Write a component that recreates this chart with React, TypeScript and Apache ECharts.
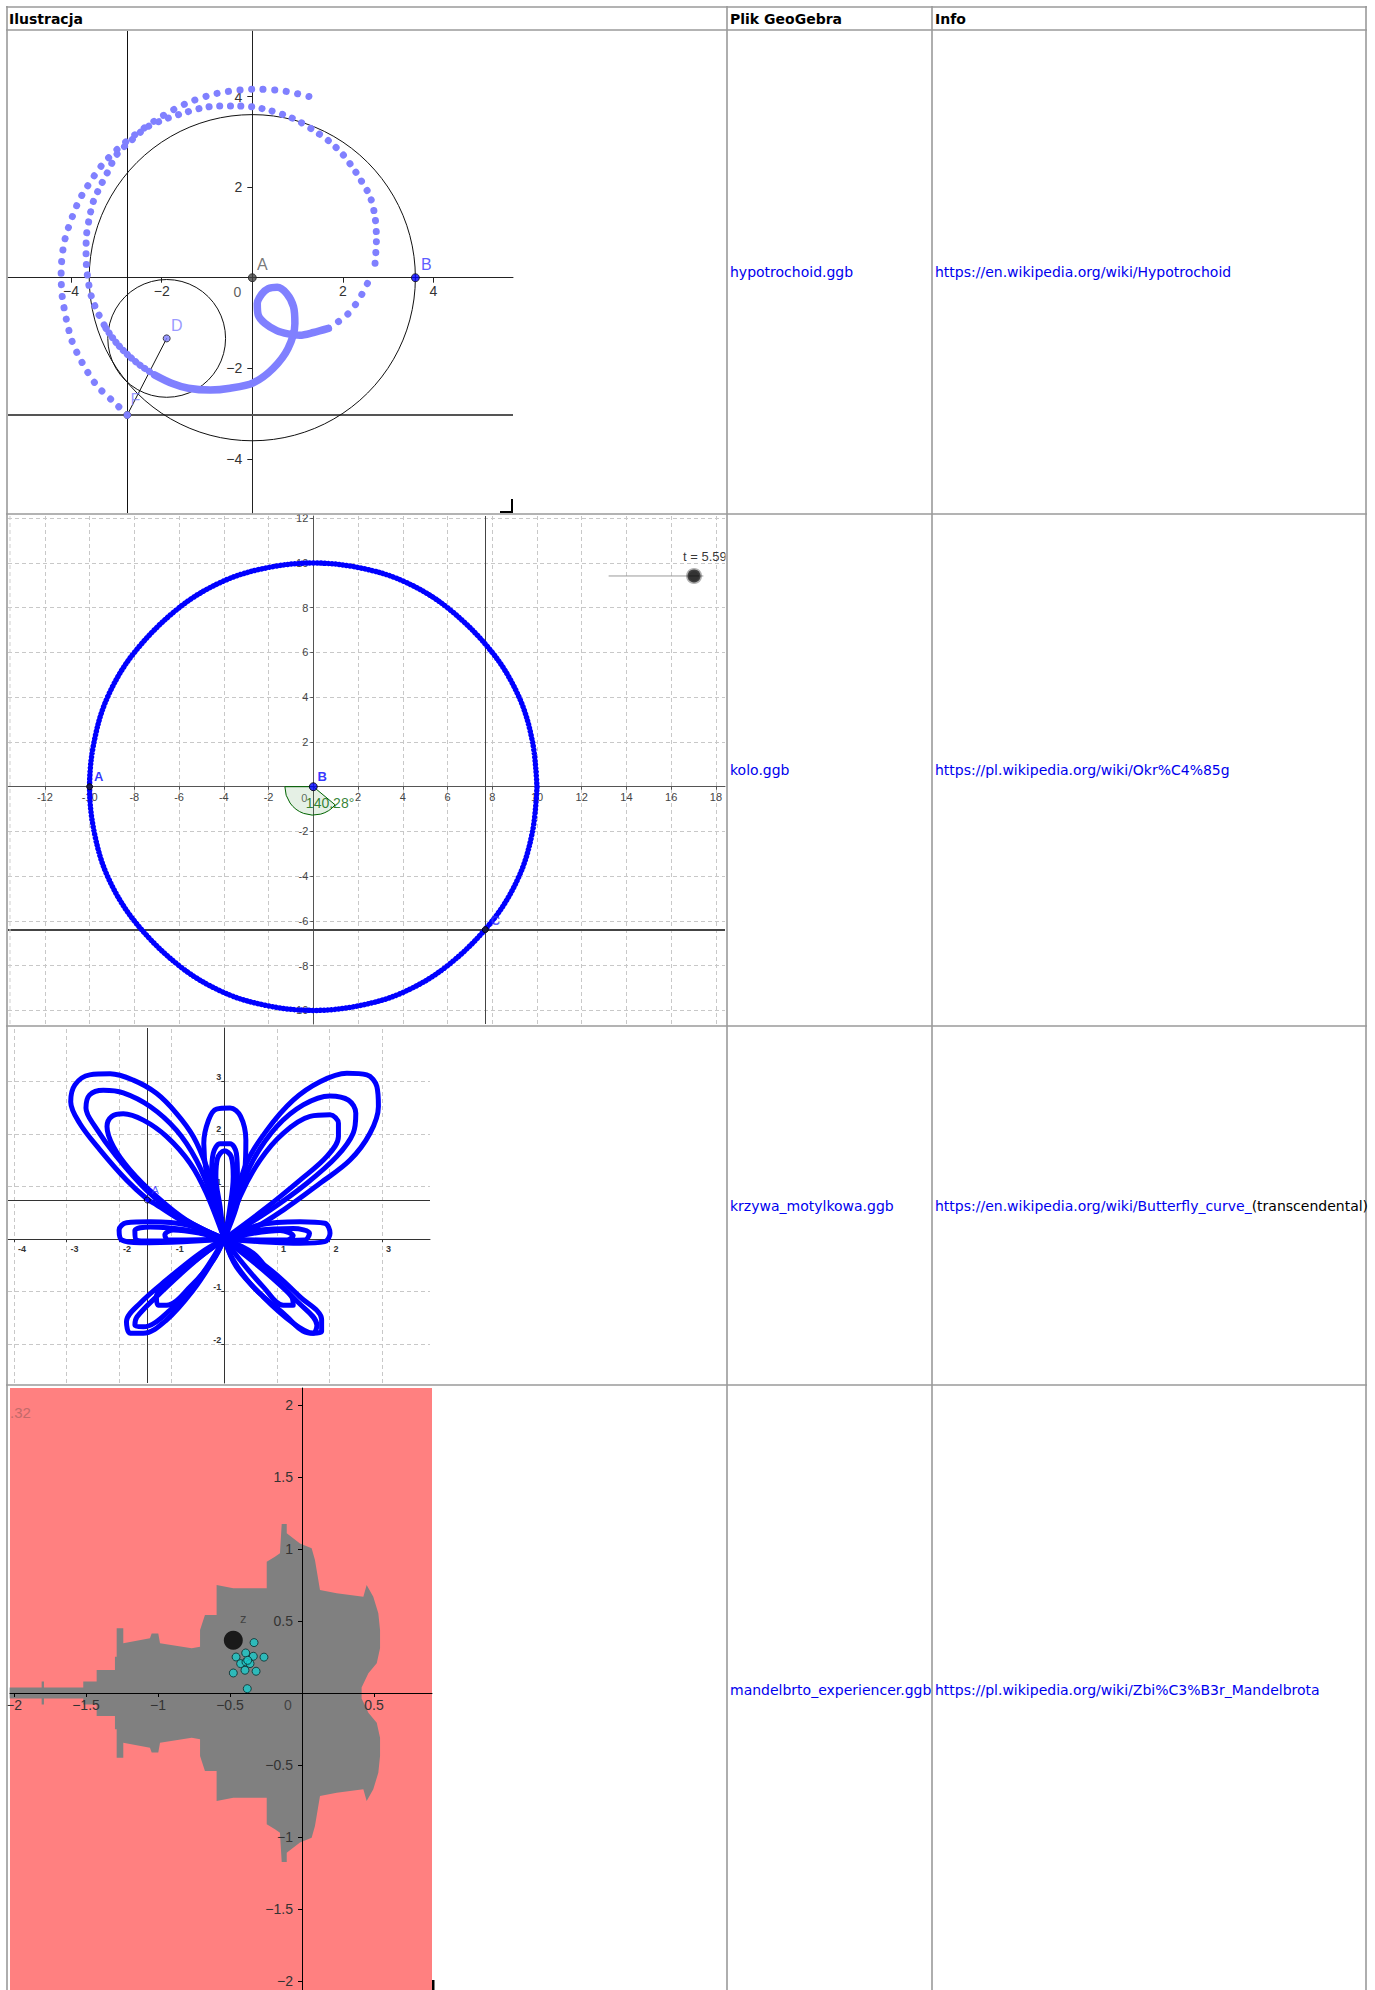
import React, { useEffect, useRef } from 'react';
import * as echarts from 'echarts';

/* ================= table content ================= */
const headerLabels = ['Ilustracja', 'Plik GeoGebra', 'Info'];
const fileNames = ['hypotrochoid.ggb', 'kolo.ggb', 'krzywa_motylkowa.ggb', 'mandelbrto_experiencer.ggb'];
const infoLinks = [
  'https://en.wikipedia.org/wiki/Hypotrochoid',
  'https://pl.wikipedia.org/wiki/Okr%C4%85g',
  'https://en.wikipedia.org/wiki/Butterfly_curve_',
  'https://pl.wikipedia.org/wiki/Zbi%C3%B3r_Mandelbrota',
];
const infoSuffixes = ['', '', '(transcendental)', ''];

/* ================= panel 1: hypotrochoid ================= */
const hypoTicks = [-4, -2, 2, 4];
const hypoCircles = [[0, 0, 3.6], [-1.89, -1.34, 1.3]]; // cx, cy, r
const hypoSegmentDF = [[-1.89, -1.34], [-2.76, -3.03]];
const hypoLineThroughF = { x: -2.76, y: -3.03 };
const hypoPointA = [0, 0];
const hypoPointB = [3.6, 0];
const hypoPointD = [-1.89, -1.34];
const hypoPointF = [-2.76, -3.03];
const hypoOuterArc = [[1.25, 4.0], [0.65, 4.13], [0.02, 4.16], [-0.77, 4.07], [-1.45, 3.85], [-2.08, 3.51], [-2.79, 3.0], [-3.29, 2.52], [-3.67, 1.97], [-3.86, 1.63], [-4.14, 0.83], [-4.22, 0.1], [-4.19, -0.46], [-4.0, -1.34], [-3.77, -1.85], [-3.44, -2.37], [-3.03, -2.77], [-2.76, -3.03]];
const hypoInnerArc = [[2.71, 0.32], [2.74, 0.85], [2.71, 1.33], [2.6, 1.79], [2.38, 2.18], [2.19, 2.47], [1.99, 2.73], [1.71, 3.0], [1.42, 3.21], [1.05, 3.44], [0.74, 3.58], [0.35, 3.7], [0.02, 3.77], [-0.35, 3.79], [-0.73, 3.79], [-1.1, 3.75], [-1.6, 3.61], [-2.0, 3.47], [-2.33, 3.32], [-2.66, 3.04], [-2.99, 2.72], [-3.2, 2.32], [-3.36, 2.01], [-3.51, 1.68], [-3.6, 1.3], [-3.66, 0.94], [-3.67, 0.54], [-3.66, 0.24], [-3.62, -0.09], [-3.55, -0.42], [-3.42, -0.75], [-3.23, -1.12]];
const hypoMidTrace = [[-3.23, -1.12], [-2.99, -1.45], [-2.74, -1.71], [-2.48, -1.93], [-2.15, -2.15]];
const hypoDenseTrace = [[-2.15, -2.15], [-1.78, -2.33], [-1.41, -2.44], [-0.93, -2.48], [-0.49, -2.44], [0.02, -2.32], [0.46, -2.0], [0.79, -1.56], [0.94, -1.01], [0.91, -0.64], [0.76, -0.35], [0.55, -0.21], [0.35, -0.24], [0.21, -0.36], [0.11, -0.57], [0.13, -0.82], [0.28, -1.01], [0.54, -1.17], [0.79, -1.24], [1.05, -1.27], [1.35, -1.21], [1.68, -1.12]];
const hypoTailDots = [[1.68, -1.12], [1.97, -0.92], [2.12, -0.79], [2.21, -0.68], [2.35, -0.49], [2.56, -0.09]];

/* ================= panel 2: kolo ================= */
const koloXTicks = [-12, -10, -8, -6, -4, -2, 2, 4, 6, 8, 10, 12, 14, 16, 18];
const koloYTicks = [-10, -8, -6, -4, -2, 2, 4, 6, 8, 10, 12];
const koloCircle = [[10, 0], [9.8, 2], [9.2, 4], [8, 6], [6, 8], [4, 9.2], [2, 9.8], [0, 10], [-2, 9.8], [-4, 9.2], [-6, 8], [-8, 6], [-9.2, 4], [-9.8, 2], [-10, 0], [-9.8, -2], [-9.2, -4], [-8, -6], [-6, -8], [-4, -9.2], [-2, -9.8], [0, -10], [2, -9.8], [4, -9.2], [6, -8], [8, -6], [9.2, -4], [9.8, -2], [10, 0]];
const koloPointA = [-10, 0];
const koloPointB = [0, 0];
const koloPointC = [7.69, -6.39];
const koloAngleSector = [[0, 0, 1.27, 39.72, 180]]; // cx, cy, r, start deg, end deg (screen)
const koloAngleText = '140.28°';
const koloAngleTextPos = [0.75, -0.73];
const koloSliderLine = [[13.22, 9.42], [17.42, 9.42]];
const koloSliderKnob = [17.02, 9.42];
const koloSliderText = 't = 5.59';
const koloSliderTextPos = [16.53, 10.27];

/* ================= panel 3: butterfly ================= */
const bfXTicks = [-4, -3, -2, -1, 1, 2, 3];
const bfYTicks = [-2, -1, 1, 2, 3];
const bfPointA = [-1.464, 0.741];
const bfUpperLeft1 = [[0, 0], [-0.72, 0.3], [-1.29, 0.65], [-1.48, 0.77], [-1.86, 1.12], [-2.36, 1.69], [-2.75, 2.2], [-2.92, 2.61], [-2.84, 2.93], [-2.56, 3.12], [-2.17, 3.14], [-1.73, 3.02], [-1.29, 2.77], [-0.91, 2.39], [-0.59, 1.95], [-0.34, 1.38], [-0.15, 0.74], [0, 0]];
const bfUpperLeft2 = [[0, 0], [-0.84, 0.42], [-1.48, 0.93], [-2.05, 1.57], [-2.46, 2.14], [-2.63, 2.49], [-2.56, 2.74], [-2.3, 2.83], [-1.92, 2.78], [-1.41, 2.52], [-0.91, 2.07], [-0.53, 1.5], [-0.24, 0.81], [0, 0]];
const bfUpperLeft3 = [[0, 0], [-0.72, 0.36], [-1.29, 0.81], [-1.79, 1.31], [-2.11, 1.76], [-2.23, 2.14], [-2.14, 2.33], [-1.92, 2.38], [-1.54, 2.26], [-1.1, 1.95], [-0.65, 1.44], [-0.34, 0.87], [0, 0]];
const bfUpperRight1 = [[0, 0], [0.17, 0.61], [0.42, 1.44], [0.81, 2.07], [1.31, 2.64], [1.82, 2.99], [2.33, 3.15], [2.71, 3.12], [2.9, 2.9], [2.93, 2.52], [2.77, 2.01], [2.39, 1.5], [1.82, 1.06], [1.12, 0.55], [0.55, 0.2], [0, 0]];
const bfUpperRight2 = [[0, 0], [0.23, 0.74], [0.55, 1.5], [1.0, 2.14], [1.5, 2.55], [2.01, 2.72], [2.36, 2.64], [2.5, 2.39], [2.45, 2.01], [2.14, 1.57], [1.57, 1.06], [0.87, 0.55], [0, 0]];
const bfUpperRight3 = [[0, 0], [0.3, 0.81], [0.68, 1.5], [1.12, 2.01], [1.63, 2.33], [2.01, 2.36], [2.17, 2.2], [2.17, 1.95], [1.95, 1.57], [1.44, 1.12], [0.74, 0.55], [0, 0]];
const bfTop1 = [[0, 0], [-0.18, 0.61], [-0.34, 1.25], [-0.39, 1.82], [-0.3, 2.26], [-0.15, 2.47], [0.11, 2.49], [0.31, 2.33], [0.41, 1.88], [0.39, 1.31], [0.23, 0.61], [0, 0]];
const bfTop2 = [[0, 0], [-0.15, 0.61], [-0.24, 1.25], [-0.21, 1.63], [-0.08, 1.81], [0.11, 1.81], [0.23, 1.63], [0.25, 1.19], [0.14, 0.55], [0, 0]];
const bfTop3 = [[0, 0], [-0.08, 0.61], [-0.16, 1.19], [-0.13, 1.53], [0, 1.68], [0.13, 1.57], [0.17, 1.19], [0.1, 0.55], [0, 0]];
const bfLeft1 = [[0, 0], [-0.72, 0.27], [-1.41, 0.33], [-1.86, 0.31], [-2.0, 0.17], [-1.95, -0.02], [-1.6, -0.07], [-0.78, -0.05], [0, 0]];
const bfLeft2 = [[0, 0], [-0.72, 0.17], [-1.41, 0.23], [-1.7, 0.16], [-1.68, -0.01], [-1.41, -0.04], [-0.72, -0.03], [0, 0]];
const bfLeft3 = [[0, 0], [-0.46, 0.11], [-0.97, 0.17], [-1.13, 0.08], [-1.07, -0.02], [-0.59, -0.02], [0, 0]];
const bfRight1 = [[0, 0], [0.68, 0.27], [1.44, 0.33], [1.91, 0.3], [2.01, 0.11], [1.91, -0.05], [1.44, -0.08], [0.68, -0.05], [0, 0]];
const bfRight2 = [[0, 0], [0.68, 0.17], [1.31, 0.2], [1.62, 0.11], [1.53, -0.02], [0.81, -0.03], [0, 0]];
const bfRight3 = [[0, 0], [0.55, 0.11], [1.06, 0.16], [1.31, 0.06], [1.19, -0.02], [0.55, -0.02], [0, 0]];
const bfLowLeft1 = [[0, 0], [-0.46, -0.27], [-1.1, -0.78], [-1.6, -1.22], [-1.86, -1.57], [-1.79, -1.79], [-1.54, -1.79], [-1.1, -1.54], [-0.59, -0.97], [-0.21, -0.4], [0, 0]];
const bfLowLeft2 = [[0, 0], [-0.53, -0.4], [-1.22, -1.03], [-1.66, -1.48], [-1.7, -1.64], [-1.54, -1.67], [-1.03, -1.35], [-0.46, -0.72], [0, 0]];
const bfLowLeft3 = [[0, 0], [-0.46, -0.34], [-1.03, -0.78], [-1.29, -1.1], [-1.26, -1.26], [-1.1, -1.26], [-0.65, -0.91], [-0.21, -0.4], [0, 0]];
const bfLowRight1 = [[0, 0], [0.17, -0.4], [0.55, -0.91], [1.12, -1.41], [1.63, -1.79], [1.85, -1.76], [1.85, -1.53], [1.44, -1.1], [0.81, -0.53], [0, 0]];
const bfLowRight2 = [[0, 0], [0.23, -0.53], [0.74, -1.1], [1.31, -1.6], [1.69, -1.79], [1.76, -1.64], [1.4, -1.2], [0.75, -0.6], [0, 0]];
const bfLowRight3 = [[0, 0], [0.3, -0.4], [0.74, -0.91], [1.12, -1.26], [1.31, -1.26], [1.28, -1.1], [0.93, -0.72], [0.55, -0.27], [0, 0]];
const bfLoops = [bfUpperLeft1, bfUpperLeft2, bfUpperLeft3, bfUpperRight1, bfUpperRight2, bfUpperRight3, bfTop1, bfTop2, bfTop3, bfLeft1, bfLeft2, bfLeft3, bfRight1, bfRight2, bfRight3, bfLowLeft1, bfLowLeft2, bfLowLeft3, bfLowRight1, bfLowRight2, bfLowRight3];

/* ================= panel 4: Mandelbrot ================= */
const mbXTicks = [-2, -1.5, -1, -0.5, 0.5];
const mbYTicks = [-2, -1.5, -1, -0.5, 0.5, 1, 1.5, 2];
const mbUpperOutline = [[-2.03, 0.039], [-1.808, 0.039], [-1.808, 0.079], [-1.792, 0.079], [-1.792, 0.039], [-1.519, 0.039], [-1.519, 0.079], [-1.426, 0.079], [-1.426, 0.16], [-1.299, 0.16], [-1.299, 0.252], [-1.287, 0.252], [-1.287, 0.449], [-1.241, 0.449], [-1.241, 0.345], [-1.056, 0.38], [-1.044, 0.414], [-0.998, 0.414], [-0.986, 0.345], [-0.766, 0.31], [-0.708, 0.322], [-0.708, 0.4375], [-0.674, 0.542], [-0.593, 0.542], [-0.593, 0.75], [-0.477, 0.727], [-0.245, 0.727], [-0.245, 0.912], [-0.188, 0.947], [-0.153, 0.97], [-0.141, 1.174], [-0.106, 1.174], [-0.106, 1.109], [-0.014, 1.039], [0.067, 1.005], [0.09, 0.924], [0.125, 0.715], [0.241, 0.692], [0.426, 0.669], [0.449, 0.75], [0.495, 0.669], [0.53, 0.553], [0.542, 0.4375], [0.542, 0.31], [0.519, 0.206], [0.461, 0.137], [0.414, 0.039], [0.414, 0]];
const mbPointZ = [-0.477, 0.366];
const mbOrbit = [[-0.333, 0.35], [-0.458, 0.25], [-0.391, 0.278], [-0.338, 0.255], [-0.264, 0.249], [-0.426, 0.204], [-0.389, 0.215], [-0.361, 0.204], [-0.377, 0.227], [-0.477, 0.139], [-0.396, 0.158], [-0.319, 0.151], [-0.38, 0.03]];

/* ================= layout (pixels) ================= */
const FONT_TABLE = '"DejaVu Sans", sans-serif';
const FONT_GGB = '"Liberation Sans", Arial, sans-serif';
const TABLE = { hLines: [7, 30, 514, 1026, 1385], vLines: [7, 727, 932, 1366], left: 6, right: 1367, bottom: 1990, color: '#9a9a9a' };
const HEADER_Y = 18.5;
const COL_TEXT_X = [9, 730, 935];
const ROW_TEXT_Y = [272, 769.5, 1205.5, 1690];

// each panel: grid rect + pixel position of origin + pixels per unit
const PANELS = [
  { left: 8, top: 31, width: 505, height: 482, ox: 252.3, oy: 277.7, k: 45.3 },
  { left: 8, top: 516, width: 717, height: 508, ox: 313.3, oy: 786.7, k: 22.37 },
  { left: 8, top: 1028, width: 422, height: 355, ox: 224.3, oy: 1239, k: 52.6 },
  { left: 10, top: 1388, width: 422, height: 602, ox: 302, oy: 1693, k: 144 },
];
const ranges = PANELS.map((p) => ({
  x: [(p.left - p.ox) / p.k, (p.left + p.width - p.ox) / p.k],
  y: [(p.oy - (p.top + p.height)) / p.k, (p.oy - p.top) / p.k],
}));

const MINUS = '\u2212';

function makeAxes(i: number, xt: number[], yt: number[], o: any) {
  const p = PANELS[i];
  const fmt = (v: number) => (v < 0 ? o.minus + String(Math.abs(v)) : String(v));
  const base = (ticks: number[], isX: boolean) => ({
    type: 'value',
    gridIndex: i,
    z: o.z,
    position: isX ? 'bottom' : 'left',
    // move the axis from the grid edge onto the origin (GeoGebra style)
    offset: isX ? -(p.top + p.height - p.oy) : -(p.ox - p.left),
    axisLine: { show: true, onZero: false, lineStyle: { color: o.axisColor, width: 1 } },
    axisTick: { show: true, customValues: ticks, length: o.tickLen, lineStyle: { color: o.axisColor } },
    axisLabel: {
      show: true,
      customValues: ticks,
      formatter: fmt,
      color: o.labelColor,
      fontSize: o.fontSize,
      fontFamily: FONT_GGB,
      fontWeight: o.fontWeight || 'normal',
      margin: isX ? o.xMargin : o.yMargin,
      ...(isX ? o.xExtra || {} : o.yExtra || {}),
    },
    splitLine: { show: false },
  });
  return {
    x: { ...base(xt, true), min: ranges[i].x[0], max: ranges[i].x[1] },
    y: { ...base(yt, false), min: ranges[i].y[0], max: ranges[i].y[1] },
  };
}

function pathSeries(i: number, data: number[][], o: any) {
  return {
    type: 'line', xAxisIndex: i, yAxisIndex: i, z: o.z ?? 3, silent: true, data,
    showSymbol: false, symbol: 'none', smooth: o.smooth ?? 0,
    lineStyle: { color: o.color, width: o.width, type: o.dash ?? 'solid', cap: 'round', join: 'round' },
  };
}

function pointSeries(i: number, data: number[][], o: any) {
  return {
    type: 'scatter', xAxisIndex: i, yAxisIndex: i, z: o.z ?? 5, silent: true,
    symbol: 'circle', symbolSize: o.size,
    itemStyle: { color: o.fill, borderColor: o.stroke || 'rgba(0,0,0,0)', borderWidth: o.strokeWidth || 0 },
    label: o.text
      ? {
          show: true, formatter: o.text, position: 'inside', offset: o.offset || [0, 0],
          color: o.color, fontSize: o.fontSize, fontFamily: o.fontFamily || FONT_GGB,
          fontWeight: o.fontWeight || 'normal', align: o.align || 'center', verticalAlign: 'middle',
        }
      : { show: false },
    data,
  };
}

function textSeries(i: number, pos: number[], text: string, o: any) {
  return pointSeries(i, [pos], { ...o, size: 1, fill: 'rgba(0,0,0,0)', text });
}

function lineMarks(i: number, xs: number[], ys: number[], style: any, z: number) {
  return {
    type: 'scatter', xAxisIndex: i, yAxisIndex: i, z, silent: true, data: [],
    markLine: {
      silent: true, z, symbol: ['none', 'none'], label: { show: false }, lineStyle: style, animation: false,
      data: [...xs.map((v) => ({ xAxis: v })), ...ys.map((v) => ({ yAxis: v }))],
    },
  };
}

function buildOption() {
  const a0 = makeAxes(0, hypoTicks, hypoTicks, { minus: MINUS, axisColor: '#222', labelColor: '#333', fontSize: 14, tickLen: 5, xMargin: 6, yMargin: 10, z: 1 });
  const a1 = makeAxes(1, koloXTicks, koloYTicks, { minus: '-', axisColor: '#555', labelColor: '#444', fontSize: 11, tickLen: 3, xMargin: 5, yMargin: 5, z: 1 });
  const a2 = makeAxes(2, bfXTicks, bfYTicks, { minus: '-', axisColor: '#333', labelColor: '#333', fontSize: 9, fontWeight: 'bold', tickLen: 3, xMargin: 5, yMargin: 3, z: 1, xExtra: { align: 'left', padding: [0, 0, 0, 4] }, yExtra: { verticalAlign: 'bottom' } });
  const a3 = makeAxes(3, mbXTicks, mbYTicks, { minus: MINUS, axisColor: '#000', labelColor: '#333', fontSize: 14, tickLen: 4, xMargin: 5, yMargin: 9, z: 3 });

  const series: any[] = [];

  /* ---- panel 1 ---- */
  series.push({
    type: 'custom', xAxisIndex: 0, yAxisIndex: 0, z: 2, silent: true, data: hypoCircles,
    renderItem: (params: any, api: any) => {
      const c = api.coord([api.value(0), api.value(1)]);
      const s = api.size([api.value(2), api.value(2)]);
      return { type: 'circle', shape: { cx: c[0], cy: c[1], r: s[0] }, style: { fill: 'none', stroke: '#111', lineWidth: 1 } };
    },
  });
  series.push(lineMarks(0, [hypoLineThroughF.x], [], { color: '#111', width: 1, type: 'solid' }, 1.5));
  series.push(lineMarks(0, [], [hypoLineThroughF.y], { color: '#555', width: 2, type: 'solid' }, 1.5));
  series.push(pathSeries(0, hypoSegmentDF, { color: '#111', width: 1, z: 2 }));
  const dotColor = '#8080ff';
  series.push(pathSeries(0, hypoOuterArc, { color: dotColor, width: 7, dash: [0.1, 11.5], smooth: 0.3 }));
  series.push(pathSeries(0, hypoInnerArc, { color: dotColor, width: 7, dash: [0.1, 10.5], smooth: 0.3 }));
  series.push(pathSeries(0, hypoMidTrace, { color: dotColor, width: 7, dash: [0.1, 5.5], smooth: 0.3 }));
  series.push(pathSeries(0, hypoDenseTrace, { color: dotColor, width: 7.5, smooth: 0.3 }));
  series.push(pathSeries(0, hypoTailDots, { color: dotColor, width: 7, dash: [0.1, 12], smooth: 0.3 }));
  series.push(pointSeries(0, [hypoPointA], { size: 8, fill: '#444', stroke: '#222', strokeWidth: 1, text: 'A', offset: [10, -13], color: '#555', fontSize: 16 }));
  series.push(pointSeries(0, [hypoPointB], { size: 8, fill: '#0000ff', stroke: '#111', strokeWidth: 1, text: 'B', offset: [11, -13], color: '#3030ff', fontSize: 16 }));
  series.push(pointSeries(0, [hypoPointD], { size: 7, fill: '#8080ff', stroke: '#222', strokeWidth: 1, text: 'D', offset: [10, -13], color: '#8080ff', fontSize: 16 }));
  series.push(pointSeries(0, [hypoPointF], { size: 7, fill: '#8080ff', stroke: '#222', strokeWidth: 1, text: 'F', offset: [8, -15], color: '#8080ff', fontSize: 16, z: 2 }));
  series.push(textSeries(0, [0, 0], '0', { offset: [-15, 14], color: '#333', fontSize: 14, z: 1 }));

  /* ---- panel 2 ---- */
  series.push(lineMarks(1, koloXTicks, koloYTicks, { color: '#c8c8c8', width: 1, type: [4, 3] }, 0));
  series.push(lineMarks(1, [koloPointC[0]], [], { color: '#444', width: 1, type: 'solid' }, 1.5));
  series.push(lineMarks(1, [], [koloPointC[1]], { color: '#444', width: 2, type: 'solid' }, 1.5));
  series.push({
    type: 'custom', xAxisIndex: 1, yAxisIndex: 1, z: 2, silent: true, data: koloAngleSector,
    renderItem: (params: any, api: any) => {
      const c = api.coord([api.value(0), api.value(1)]);
      const s = api.size([api.value(2), api.value(2)]);
      return {
        type: 'sector',
        shape: { cx: c[0], cy: c[1], r0: 0, r: s[0], startAngle: (api.value(3) * Math.PI) / 180, endAngle: (api.value(4) * Math.PI) / 180, clockwise: true },
        style: { fill: 'rgba(0,110,0,0.1)', stroke: '#006400', lineWidth: 1 },
      };
    },
  });
  series.push(pathSeries(1, koloCircle, { color: '#0000ff', width: 5.5, dash: [0.1, 3.6], smooth: 0.35 }));
  series.push(pathSeries(1, koloSliderLine, { color: '#999', width: 1, z: 3 }));
  series.push(pointSeries(1, [koloSliderKnob], { size: 13, fill: '#000', stroke: 'rgba(80,80,80,0.55)', strokeWidth: 3, z: 4 }));
  series.push(pointSeries(1, [koloPointA], { size: 6, fill: '#222', stroke: '#000', strokeWidth: 1, text: 'A', offset: [9, -10], color: '#0000ff', fontSize: 13, fontWeight: 'bold' }));
  series.push(pointSeries(1, [koloPointB], { size: 8, fill: '#0000ff', stroke: '#000', strokeWidth: 1, text: 'B', offset: [9, -10], color: '#0000ff', fontSize: 13, fontWeight: 'bold' }));
  series.push(pointSeries(1, [koloPointC], { size: 6, fill: '#222', stroke: '#000', strokeWidth: 1, text: 'C', offset: [10, -9], color: '#3030ff', fontSize: 13, fontWeight: 'bold' }));
  series.push(textSeries(1, [0, 0], '0', { offset: [-9, 11], color: '#444', fontSize: 11, z: 1 }));
  series.push(textSeries(1, koloAngleTextPos, koloAngleText, { color: '#006400', fontSize: 14 }));
  series.push(textSeries(1, koloSliderTextPos, koloSliderText, { color: '#000', fontSize: 13, align: 'left' }));

  /* ---- panel 3 ---- */
  series.push(lineMarks(2, bfXTicks, bfYTicks, { color: '#c8c8c8', width: 1, type: [4, 3] }, 0));
  series.push(lineMarks(2, [bfPointA[0]], [bfPointA[1]], { color: '#333', width: 1, type: 'solid' }, 1.5));
  bfLoops.forEach((loop) => series.push(pathSeries(2, loop, { color: '#0000ff', width: 5, smooth: 0.35 })));
  series.push(pointSeries(2, [bfPointA], { size: 6, fill: 'rgba(0,0,255,0.3)', stroke: '#000', strokeWidth: 1, text: 'A', offset: [8, -10], color: '#3030ff', fontSize: 11 }));

  /* ---- panel 4 ---- */
  const mbPolygon = mbUpperOutline.concat(mbUpperOutline.slice().reverse().map((p) => [p[0], -p[1]]));
  series.push({
    type: 'custom', xAxisIndex: 3, yAxisIndex: 3, z: 1, silent: true, data: [[0, 0]],
    renderItem: (params: any, api: any) => ({
      type: 'polygon',
      shape: { points: mbPolygon.map((p) => api.coord(p)) },
      style: { fill: '#808080' },
    }),
  });
  series.push(pointSeries(3, [mbPointZ], { size: 19, fill: '#000', text: 'z', offset: [10, -22], color: '#333', fontSize: 13, z: 5 }));
  series.push(pointSeries(3, mbOrbit, { size: 8, fill: '#19c8c8', stroke: '#0a2a2a', strokeWidth: 1, z: 6 }));
  series.push(textSeries(3, [0, 0], '0', { offset: [-14, 12], color: '#333', fontSize: 14, z: 4 }));

  /* ---- graphic: table frame & texts ---- */
  const g: any[] = [];
  TABLE.hLines.forEach((y) => g.push({ type: 'line', silent: true, z: 100, shape: { x1: TABLE.left, y1: y, x2: TABLE.right, y2: y }, style: { stroke: TABLE.color, lineWidth: 1.6 } }));
  TABLE.vLines.forEach((x) => g.push({ type: 'line', silent: true, z: 100, shape: { x1: x, y1: TABLE.hLines[0] - 1, x2: x, y2: TABLE.bottom }, style: { stroke: TABLE.color, lineWidth: 1.6 } }));
  g.push({ type: 'rect', silent: true, z: 99, shape: { x: 725.5, y: 546, width: 12, height: 22 }, style: { fill: '#fff' } });
  g.push({ type: 'polyline', silent: true, z: 101, shape: { points: [[500, 512], [512, 512], [512, 499]] }, style: { stroke: '#000', lineWidth: 2, fill: 'none' } });
  g.push({ type: 'line', silent: true, z: 50, shape: { x1: 10, y1: 516, x2: 10, y2: 1024 }, style: { stroke: '#cfcfcf', lineWidth: 1, lineDash: [4, 3] } });
  g.push({ type: 'rect', silent: true, z: 101, shape: { x: 432, y: 1980, width: 2.5, height: 10 }, style: { fill: '#000' } });
  g.push({ type: 'text', silent: true, z: 60, x: 10, y: 1412, style: { text: '.32', fill: '#c46a6a', font: '15px "Liberation Sans", sans-serif', textVerticalAlign: 'middle' } });

  headerLabels.forEach((t, c) => g.push({ type: 'text', silent: true, z: 102, x: COL_TEXT_X[c], y: HEADER_Y, style: { text: t, fill: '#000', font: 'bold 14px ' + FONT_TABLE, textVerticalAlign: 'middle' } }));
  fileNames.forEach((t, r) => g.push({ type: 'text', silent: true, z: 102, x: COL_TEXT_X[1], y: ROW_TEXT_Y[r], style: { text: t, fill: '#0000ee', font: '14px ' + FONT_TABLE, textVerticalAlign: 'middle' } }));
  infoLinks.forEach((t, r) => {
    const suffix = infoSuffixes[r];
    g.push({
      type: 'text', silent: true, z: 102, x: COL_TEXT_X[2], y: ROW_TEXT_Y[r],
      style: suffix
        ? { text: '{a|' + t + '}{b|' + suffix + '}', font: '14px ' + FONT_TABLE, textVerticalAlign: 'middle', rich: { a: { fill: '#0000ee', font: '14px ' + FONT_TABLE }, b: { fill: '#000', font: '14px ' + FONT_TABLE } } }
        : { text: t, fill: '#0000ee', font: '14px ' + FONT_TABLE, textVerticalAlign: 'middle' },
    });
  });

  return {
    animation: false,
    textStyle: { fontFamily: FONT_GGB },
    grid: PANELS.map((p, i) => ({
      left: p.left, top: p.top, width: p.width, height: p.height,
      show: i === 3, backgroundColor: i === 3 ? '#ff8080' : 'transparent', borderWidth: 0,
    })),
    xAxis: [a0.x, a1.x, a2.x, a3.x],
    yAxis: [a0.y, a1.y, a2.y, a3.y],
    series,
    graphic: { elements: g },
  };
}

export default function App() {
  const ref = useRef<HTMLDivElement>(null);
  useEffect(() => {
    if (!ref.current) return;
    const chart = echarts.init(ref.current, null, { renderer: 'svg' });
    chart.setOption(buildOption() as any);
    return () => chart.dispose();
  }, []);
  return <div ref={ref} style={{ position: 'absolute', left: 0, top: 0, width: 1375, height: 1990, background: '#fff' }} />;
}
